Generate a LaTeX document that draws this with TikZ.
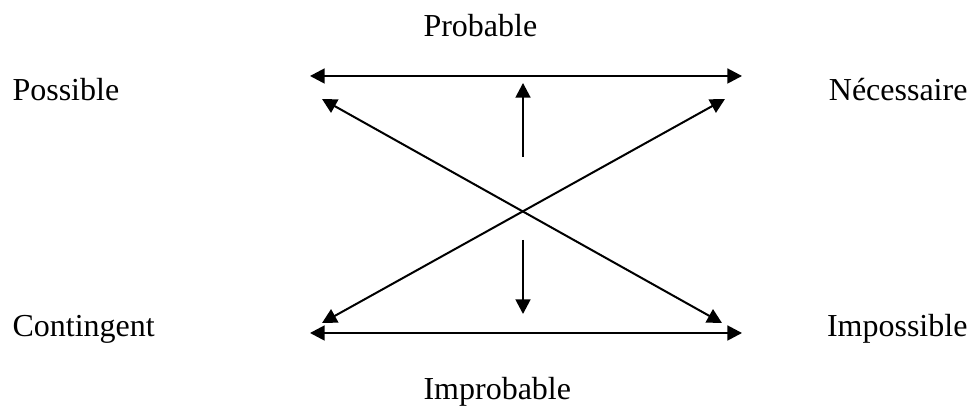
\documentclass[tikz,border=0pt]{standalone}
\usepackage{fontspec}
\setmainfont{Liberation Serif}
\usetikzlibrary{arrows.meta}
\tikzset{
    fleche/.style={line width=0.75pt, {Triangle[length=5.5pt,width=5.6pt]}-{Triangle[length=5.5pt,width=5.6pt]}},
    simple/.style={line width=0.75pt, -{Triangle[length=5.5pt,width=5.6pt]}},
    mot/.style={inner sep=0pt, font=\fontsize{12}{14}\selectfont}
}
\begin{document}
\begin{tikzpicture}[x=0.375pt,y=-0.375pt]
\useasboundingbox (0,0) rectangle (973,407);

% Modalites
\node[mot,anchor=base west] (probable) at (423,37) {Probable};
\node[mot,anchor=base west] (improbable) at (423,400) {Improbable};
\node[mot,anchor=base west] (possible) at (12,101) {Possible};
\node[mot,anchor=base east] (necessaire) at (968,101) {Nécessaire};
\node[mot,anchor=base west] (contingent) at (12,337) {Contingent};
\node[mot,anchor=base east] (impossible) at (968,337) {Impossible};

% Extremites des fleches
\coordinate (hg) at (310,76);
\coordinate (hd) at (742,76);
\coordinate (bg) at (310,333);
\coordinate (bd) at (742,333);
\coordinate (dhg) at (322,99);
\coordinate (dhd) at (725,99);
\coordinate (dbg) at (322,323);
\coordinate (dbd) at (722,323);
\coordinate (mh1) at (523,157);
\coordinate (mh2) at (523,83);
\coordinate (mb1) at (523,240);
\coordinate (mb2) at (523,314);

% Fleches
\draw[fleche] (hg) -- (hd);
\draw[fleche] (bg) -- (bd);
\draw[fleche] (dhg) -- (dbd);
\draw[fleche] (dbg) -- (dhd);
\draw[simple] (mh1) -- (mh2);
\draw[simple] (mb1) -- (mb2);

\end{tikzpicture}
\end{document}
